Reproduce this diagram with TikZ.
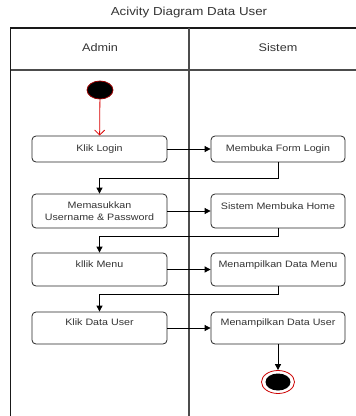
\documentclass[tikz,border=0pt]{standalone}
\usepackage{fontspec}
\setmainfont{Liberation Sans}[FakeStretch=1.15]
\usetikzlibrary{arrows.meta,shapes.geometric}
\begin{document}
\begin{tikzpicture}[x=1pt,y=-1pt,
  act/.style={draw=black!85, rounded corners=4pt, line width=0.8pt, align=center,
    font=\fontsize{9.3}{11.5}\selectfont, text=black!80, inner sep=0pt},
  lefta/.style={act, minimum width=135pt},
  righta/.style={act, minimum width=134pt},
  flow/.style={draw=black, line width=0.8pt, -{Triangle[length=6pt,width=6pt]}},
  hdr/.style={font=\fontsize{11}{13}\selectfont, text=black!80},
  lane/.style={draw=black!70, line width=1.3pt}]
\useasboundingbox (0,0) rectangle (356,416);
\begin{scope}
\clip (0,0) rectangle (356,416);
% title
\node[hdr, font=\fontsize{11.6}{13}\selectfont] (title) at (189,12.5) {Acivity Diagram Data User};
% swimlanes
\draw[draw=black!90, line width=1.3pt] (10.5,420) -- (10.5,28) -- (360,28);
\draw[lane] (10.5,70) -- (360,70);
\draw[lane] (189,28) -- (189,420);
\node[hdr] (admin) at (100,48) {Admin};
\node[hdr] (sistem) at (278,48) {Sistem};
% start
\node[draw=red!60!black, fill=black, line width=0.8pt, ellipse, minimum width=26pt, minimum height=18pt, inner sep=0pt] (start) at (100,90) {};
% activities
\node[lefta, minimum height=26pt] (kl) at (99.5,149) {Klik Login};
\node[righta, minimum height=26pt] (mfl) at (278,149) {Membuka Form Login};
\node[lefta, minimum height=34pt] (mem) at (99.5,211) {Memasukkan\\Username \& Password};
\node[righta, minimum height=34pt, text height=7pt, text depth=10pt] (smh) at (278,211) {Sistem Membuka Home};
\node[lefta, minimum height=33pt, text height=7pt, text depth=12pt] (km) at (99.5,269.5) {kllik Menu};
\node[righta, minimum height=33pt, text height=7pt, text depth=12pt] (mdm) at (278,269.5) {Menampilkan Data Menu};
\node[lefta, minimum height=32pt, text height=7pt, text depth=12pt] (kdu) at (99.5,328) {Klik Data User};
\node[righta, minimum height=32pt, text height=7pt, text depth=12pt] (mdu) at (278,328) {Menampilkan Data User};
% end
\node[draw=red!80!black, fill=white, line width=0.8pt, ellipse, minimum width=33pt, minimum height=23pt, inner sep=0pt] (end) at (278,382) {};
\node[fill=black, ellipse, minimum width=25pt, minimum height=17pt, inner sep=0pt] (endin) at (278,382) {};
% flows
\draw[draw=red!85!black, line width=0.8pt, -{Straight Barb[length=5pt,width=10pt]}] (start) -- (kl);
\draw[flow] (kl) -- (mfl);
\draw[flow] (mfl.south) -- ++(0,16) -| (mem.north);
\draw[flow] (mem) -- (smh);
\draw[flow] (smh.south) -- ++(0,8) -| (km.north);
\draw[flow] (km) -- (mdm);
\draw[flow] (mdm.south) -- ++(0,8) -| (kdu.north);
\draw[flow] (kdu) -- (mdu);
\draw[flow] (mdu) -- (end);
\end{scope}
\end{tikzpicture}
\end{document}
